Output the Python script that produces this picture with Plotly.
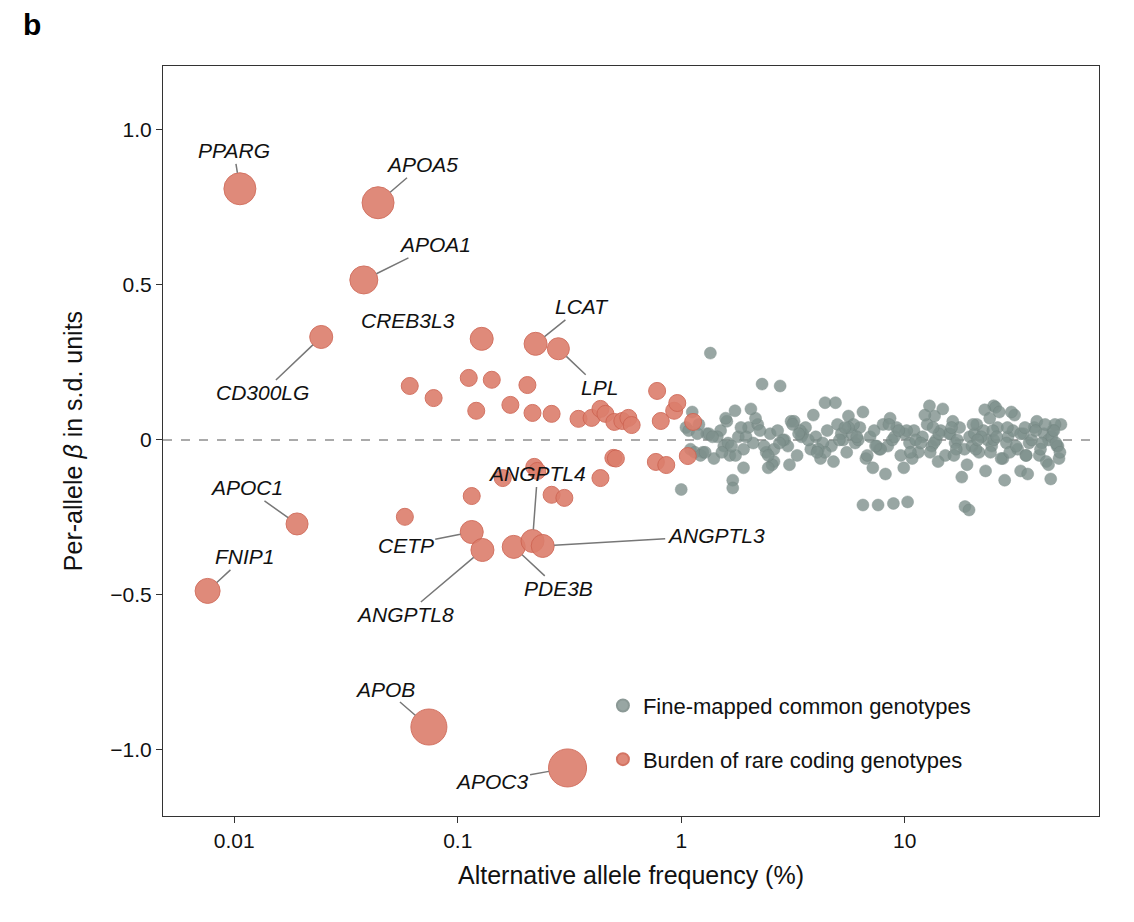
import plotly.graph_objects as go
import math

# Rare coding burden (labelled)
lab_genes = ["PPARG","APOA5","APOA1","CD300LG","CREB3L3","LCAT","LPL","APOC1","FNIP1","CETP",
             "ANGPTL8","PDE3B","ANGPTL4","ANGPTL3","APOB","APOC3"]
lab_x = [0.0106,0.044,0.038,0.0245,0.128,0.223,0.282,0.0191,0.0076,0.1155,0.129,0.178,0.216,0.24,0.0743,0.31]
lab_y = [0.81,0.765,0.516,0.332,0.326,0.31,0.294,-0.271,-0.487,-0.297,-0.355,-0.345,-0.326,-0.342,-0.926,-1.058]
lab_size = [32,32,28,23,23,23,22,22,25,23,23,23,23,23,36,38]
lab_ax = [-6,44,71,-59,-74,46,41,-51,37,-66,-77,45,5,173,-44,-76]
lab_ay = [-38,-38,-35,56,-18,-37,39,-36,-34,13,65,42,-67,-10,-38,14]
lab_line = [1,1,1,1,0,1,1,1,1,1,1,1,1,1,1,1]

# Rare coding burden (unlabelled)
r_x = [0.061,0.078,0.112,0.142,0.121,0.172,0.205,0.216,0.263,0.347,0.397,0.435,0.458,0.502,0.545,0.58,0.6,
       0.78,0.81,0.93,0.96,1.13,0.159,0.1155,0.058,0.22,0.263,0.30,0.227,0.435,0.497,0.77,0.857,1.07,0.51]
r_y = [0.174,0.135,0.2,0.194,0.094,0.113,0.177,0.087,0.084,0.068,0.071,0.1,0.084,0.058,0.061,0.071,0.048,
       0.158,0.061,0.094,0.119,0.058,-0.123,-0.181,-0.248,-0.087,-0.177,-0.187,-0.1,-0.123,-0.058,-0.071,-0.081,-0.052,-0.06]

# Fine-mapped common variants
c_x = [1.35,2.3,2.77,1.74,4.4,1.7,1.0,1.7,6.5,7.6,8.9,10.3,18.6,19.4,25,25.5,22.8,28,33,45,13.6,5.6,
       1.05,1.1,1.2,1.25,1.3,1.4,1.5,1.55,1.6,1.65,1.8,1.9,2.0,2.1,2.2,2.4,2.5,2.6,2.7,2.9,3.0,3.1,3.3,3.5,
       3.6,3.8,4.0,4.2,4.5,4.7,5.0,5.3,5.5,5.8,6.0,6.3,6.7,7.0,7.3,7.7,8.0,8.4,8.8,9.2,9.6,10,10.5,11,11.5,
       12,12.6,13.2,13.8,14.5,15.2,16,16.8,17.6,18.5,19.5,20.5,21.5,22.5,23.5,24.5,26,27.5,29,30.5,32,34,
       36,38,40,42,44,46,48,50,1.15,1.45,1.75,2.15,2.55,3.2,3.9,4.8,5.9,7.2,8.6,10.8,12.3,14.1,16.4,19,
       21,24,27,31,35,39,43,47,49,1.08,1.22,1.33,1.62,1.95,2.35,2.85,3.45,4.3,5.2,6.2,7.5,9,11.2,13.5,15.8,
       17.2,20,22,25,28.5,33,37,41,45.5,48.5,3.7,6.5,9.9,14.8,23,30,44,2.05,4.9,8.2,12.9,18,26.5,35.5,
       1.9,2.6,3.4,4.4,5.6,7.8,10.2,13,16.2,20.8,24.8,29.5,34.5,40.5,46.5,1.28,1.58,2.45,3.05,
       1.12,1.38,1.68,2.25,2.75,3.35,4.1,5.1,6.1,7.4,9.4,11.8,14.2,17,21.2,25.8,31.5,38.5,47.5,
       1.18,1.52,1.85,2.45,3.15,4.05,5.4,6.8,8.5,10.6,13.4,16.6,20.2,24.2,28.8,34.8,42.5,49.5]
c_y = [0.28,0.18,0.174,0.094,0.12,-0.13,-0.16,-0.155,-0.21,-0.21,-0.205,-0.2,-0.215,-0.226,0.11,0.105,0.097,
       -0.13,-0.1,-0.126,0.077,0.077,
       0.04,-0.03,0.05,-0.04,0.02,-0.06,0.03,-0.02,0.06,-0.05,0.01,-0.03,0.04,-0.01,0.05,-0.04,0.02,-0.07,
       0.03,0.0,-0.02,0.06,-0.05,0.02,0.04,-0.03,0.01,-0.06,0.03,-0.02,0.05,0.0,-0.04,0.02,-0.01,0.04,-0.06,
       0.01,0.03,-0.03,0.05,-0.02,0.0,0.04,-0.05,0.02,-0.01,0.03,-0.04,0.01,0.05,-0.02,0.0,0.03,-0.05,0.02,
       -0.01,0.04,-0.03,0.01,0.02,-0.04,0.03,0.0,-0.02,0.04,-0.06,0.01,0.03,-0.03,0.02,-0.01,0.04,-0.05,0.02,
       0.0,0.03,-0.02,0.05,-0.04,0.01,
       -0.05,0.07,-0.08,0.06,0.08,-0.07,0.05,-0.09,0.07,-0.06,0.08,-0.07,0.06,-0.08,0.05,0.07,-0.06,0.08,
       -0.05,0.06,-0.07,0.05,-0.06,0.03,-0.05,
       0.02,-0.01,0.01,-0.02,0.0,0.01,-0.01,0.02,0.0,-0.02,0.01,0.0,-0.01,0.02,0.0,-0.02,0.01,0.0,-0.01,
       0.02,0.0,-0.01,0.01,-0.02,0.0,
       0.09,-0.09,0.1,-0.1,0.09,-0.08,0.1,
       0.12,-0.11,0.11,-0.12,0.09,-0.11,-0.09,
       -0.03,0.03,-0.04,0.04,-0.03,0.03,-0.04,0.04,-0.03,0.03,-0.04,0.04,-0.03,0.03,-0.04,0.07,-0.09,-0.08,0.09,
       0.01,-0.02,0.03,-0.01,0.02,-0.03,0.0,0.01,-0.02,0.03,-0.01,0.02,-0.03,0.0,0.01,-0.02,0.03,-0.01,0.02,
       -0.04,0.04,-0.05,0.05,-0.04,0.04,-0.05,0.05,-0.04,0.04,-0.05,0.05,-0.04,0.04,-0.05,0.05,-0.04,0.04]

RED = "#dc7e6c"
RED_EDGE = "#cf6553"
GRAY = "#7f918d"

fig = go.Figure()
fig.add_hline(y=0, line=dict(color="#aaaaaa", width=2, dash="dash"), layer="below")
fig.add_trace(go.Scatter(x=c_x, y=c_y, mode="markers", name="Fine-mapped common genotypes", legendgroup="a",
                         marker=dict(size=12, color=GRAY, opacity=0.8, line=dict(width=0.5, color="#6f807c"))))
fig.add_trace(go.Scatter(x=r_x, y=r_y, mode="markers", showlegend=False, legendgroup="b",
                         marker=dict(size=17, color=RED, opacity=0.9, line=dict(width=1, color=RED_EDGE))))
fig.add_trace(go.Scatter(x=lab_x, y=lab_y, mode="markers", name="Burden of rare coding genotypes", legendgroup="b",
                         marker=dict(size=lab_size, color=RED, opacity=0.9, line=dict(width=1, color=RED_EDGE))))

for g, x, y, s, ax, ay, ln in zip(lab_genes, lab_x, lab_y, lab_size, lab_ax, lab_ay, lab_line):
    fig.add_annotation(x=math.log10(x), y=y, text="<i>" + g + "</i>", showarrow=True, ax=ax, ay=ay,
                       arrowhead=0, arrowwidth=1.5,
                       arrowcolor="#777777" if ln else "rgba(0,0,0,0)",
                       standoff=s / 2, font=dict(size=21, color="#111", family="Liberation Sans"),
                       xanchor="center", yanchor="middle")

fig.add_annotation(xref="paper", yref="paper", x=-0.152, y=1.03, text="<b>b</b>", showarrow=False,
                   font=dict(size=30, color="black"), xanchor="left", yanchor="bottom")

fig.update_layout(
    width=1134, height=922, paper_bgcolor="white", plot_bgcolor="white",
    margin=dict(l=155, r=43, t=58, b=114),
    font=dict(family="Liberation Sans", size=21, color="#111"),
    xaxis=dict(type="log", range=[math.log10(0.0048), math.log10(74)],
               tickvals=[0.01, 0.1, 1, 10], ticktext=["0.01", "0.1", "1", "10"],
               showgrid=False, zeroline=False, showline=True, mirror=True, linecolor="#333", linewidth=1,
               ticks="outside", ticklen=6, tickcolor="#333",
               title=dict(text="Alternative allele frequency (%)", standoff=15)),
    yaxis=dict(range=[-1.213, 1.206], tickvals=[1, 0.5, 0, -0.5, -1],
               ticktext=["1.0", "0.5", "0", "−0.5", "−1.0"],
               showgrid=False, zeroline=False, showline=True, mirror=True, linecolor="#333", linewidth=1,
               ticks="outside", ticklen=6, tickcolor="#333",
               title=dict(text="Per-allele <i>β</i> in s.d. units", standoff=20)),
    legend=dict(x=0.47, y=0.175, xanchor="left", yanchor="top", bgcolor="rgba(0,0,0,0)",
                font=dict(size=22), itemsizing="constant", tracegroupgap=22),
)
fig.write_html("out.html")
